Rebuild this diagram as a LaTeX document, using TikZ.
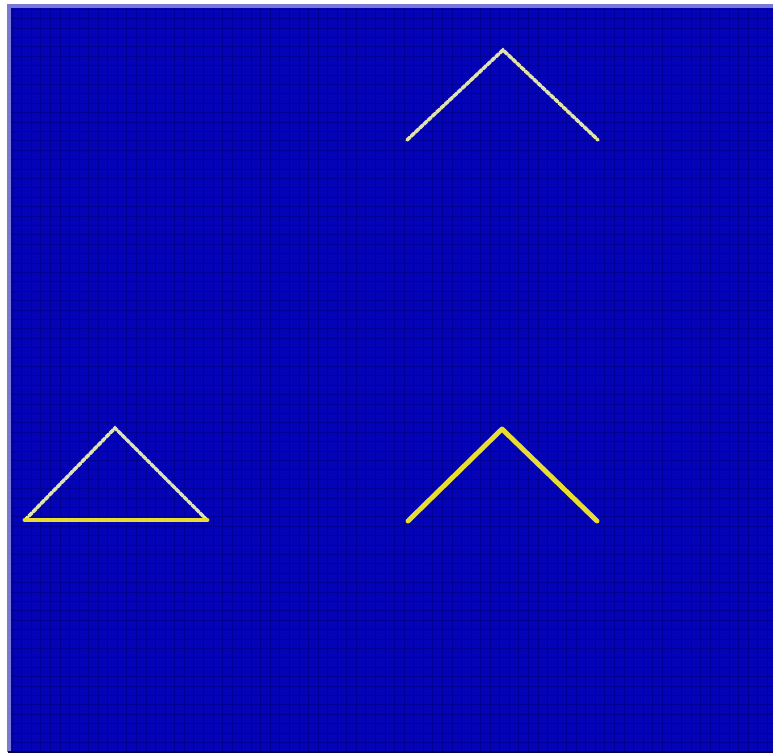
\documentclass[tikz,border=0pt]{standalone}
\usepackage{tikz}
\usetikzlibrary{calc}
\definecolor{fieldcol}{RGB}{4,4,182}
\definecolor{gridcol}{RGB}{0,0,148}
\definecolor{rimcol}{RGB}{120,120,215}
\definecolor{palecol}{RGB}{225,228,170}
\definecolor{brightcol}{RGB}{232,222,48}

\begin{document}
\begin{tikzpicture}[
  x=0.02cm, y=-0.02cm,
  faint/.style={draw=palecol, line width=2pt, dash pattern=on 2.4pt off 0.9pt, line cap=round},
  strong/.style={draw=brightcol, line width=2.8pt, line cap=round, line join=round},
  gridline/.style={draw=gridcol, line width=0.3pt}
]
  \useasboundingbox (0,0) rectangle (773,754);
  \fill[white] (0,0) rectangle (773,754);
  \fill[fieldcol] (8,5) rectangle (773,752);
  \foreach \k in {0,...,79} {
    \draw[gridline] ({12+9.56*\k},5) -- ({12+9.56*\k},752);
    \draw[gridline] (8,{9+9.4*\k}) -- (773,{9+9.4*\k});
  }
  \draw[rimcol, line width=2pt] (9,752) -- (9,6) -- (773,6);
  \draw[black!70!blue, line width=0.8pt] (8,752) -- (773,752);

  % upper chevron
  \coordinate (ua) at (407,140);
  \coordinate (ub) at (503,50);
  \coordinate (uc) at (598,140);
  \draw[faint] (ua) -- (ub) -- (uc);

  % triangle, lower left
  \coordinate (ta) at (25,520);
  \coordinate (tb) at (115,428);
  \coordinate (tc) at (207,520);
  \draw[faint] (ta) -- (tb) -- (tc);
  \draw[strong] (ta) -- (tc);

  % lower chevron
  \coordinate (la) at (408,521);
  \coordinate (lb) at (502,429);
  \coordinate (lc) at (597,521);
  \draw[strong] (la) -- (lb) -- (lc);
\end{tikzpicture}
\end{document}
